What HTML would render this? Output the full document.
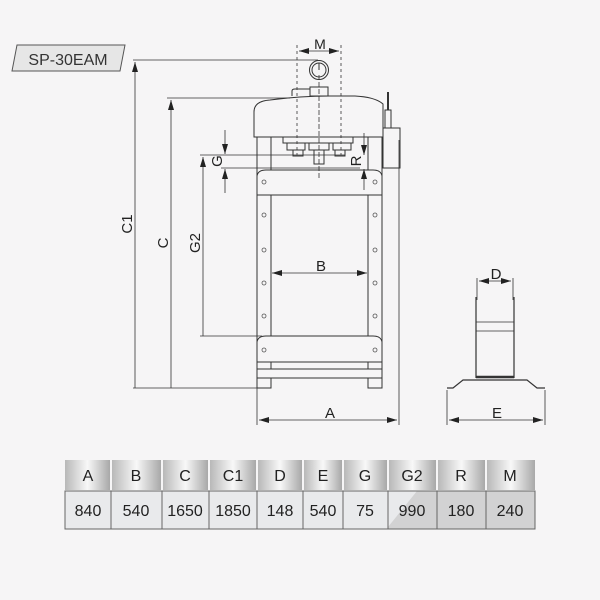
<!DOCTYPE html>
<html><head><meta charset="utf-8"><style>
html,body{margin:0;padding:0;background:#f6f5f6;}
svg{display:block;font-family:"Liberation Sans",sans-serif;}
</style></head><body>
<svg width="600" height="600" viewBox="0 0 600 600" xmlns="http://www.w3.org/2000/svg">
<defs>
<marker id="ar" viewBox="0 0 10 6" refX="10" refY="3" markerWidth="10" markerHeight="6" orient="auto-start-reverse" markerUnits="userSpaceOnUse"><path d="M0,0 L10,3 L0,6 z" fill="#222"/></marker>
<linearGradient id="hd" x1="0" x2="1" y1="0" y2="0">
<stop offset="0" stop-color="#b8b8b8"/><stop offset="0.5" stop-color="#f8f8f8"/><stop offset="1" stop-color="#a8a8a8"/></linearGradient>
</defs>
<rect width="600" height="600" fill="#f6f5f6"/>
<polygon points="17,45 125,45 120,71 12,71" fill="#e6e6e6" stroke="#555" stroke-width="1"/>
<text x="68" y="65" font-size="16" text-anchor="middle" fill="#333">SP-30EAM</text>

<g stroke="#333" stroke-width="0.8" fill="none">
<line x1="133" y1="60" x2="318" y2="60"/>
<line x1="135" y1="62" x2="135" y2="388" marker-start="url(#ar)"/>
<line x1="133" y1="388" x2="262" y2="388"/>
<line x1="167" y1="98" x2="290" y2="98"/>
<line x1="171" y1="100" x2="171" y2="388" marker-start="url(#ar)"/>
<line x1="200" y1="155" x2="345" y2="155"/>
<line x1="203" y1="157" x2="203" y2="336" marker-start="url(#ar)"/>
<line x1="200" y1="336" x2="262" y2="336"/>
<line x1="221" y1="168" x2="360" y2="168"/>
<line x1="225" y1="130" x2="225" y2="154" marker-end="url(#ar)"/>
<line x1="225" y1="193" x2="225" y2="169" marker-end="url(#ar)"/>
<line x1="364" y1="133" x2="364" y2="155" marker-end="url(#ar)"/>
<line x1="364" y1="190" x2="364" y2="169" marker-end="url(#ar)"/>
<line x1="297" y1="45" x2="297" y2="155" stroke-dasharray="3,3"/>
<line x1="341" y1="45" x2="341" y2="155" stroke-dasharray="3,3"/>
<line x1="299" y1="51" x2="339" y2="51" marker-start="url(#ar)" marker-end="url(#ar)"/>
<line x1="319" y1="75" x2="319" y2="180" stroke-dasharray="5,2"/>
<line x1="272" y1="273" x2="367" y2="273" marker-start="url(#ar)" marker-end="url(#ar)"/>
<line x1="257" y1="380" x2="257" y2="425"/>
<line x1="399" y1="140" x2="399" y2="425"/>
<line x1="259" y1="420" x2="397" y2="420" marker-start="url(#ar)" marker-end="url(#ar)"/>
<line x1="447" y1="390" x2="447" y2="425"/>
<line x1="545" y1="390" x2="545" y2="425"/>
<line x1="449" y1="420" x2="543" y2="420" marker-start="url(#ar)" marker-end="url(#ar)"/>
<line x1="477" y1="278" x2="477" y2="300"/>
<line x1="513" y1="278" x2="513" y2="300"/>
<line x1="479" y1="281" x2="511" y2="281" marker-start="url(#ar)" marker-end="url(#ar)"/>
</g>

<g stroke="#333" stroke-width="1" fill="none">
<path d="M254,137 L254,112 Q254,101 270,100 Q300,96 330,96 L355,96 Q375,97 383,104 L383,137 Z"/>
<circle cx="319" cy="70" r="9.5"/><circle cx="319" cy="70" r="7"/>
<line x1="319" y1="70" x2="319" y2="63"/>
<rect x="310" y="87" width="18" height="9"/>
<path d="M292,96 L292,91 Q292,89 295,89 L310,89"/>
<rect x="283" y="137" width="70" height="6"/>
<rect x="287" y="143" width="18" height="7"/><rect x="309" y="143" width="20" height="7"/><rect x="333" y="143" width="18" height="7"/>
<rect x="293" y="150" width="10" height="6"/><rect x="335" y="150" width="10" height="6"/>
<rect x="314" y="150" width="10" height="14"/>
<rect x="383" y="128" width="17" height="40"/>
<rect x="385" y="110" width="6" height="18"/>
<line x1="388" y1="110" x2="388" y2="92" stroke-width="2"/>
<line x1="257" y1="137" x2="257" y2="378"/><line x1="271" y1="137" x2="271" y2="170"/>
<line x1="368" y1="137" x2="368" y2="170"/><line x1="382" y1="137" x2="382" y2="378"/>
<line x1="271" y1="195" x2="271" y2="336"/><line x1="368" y1="195" x2="368" y2="336"/>
<path d="M257,195 L257,176 Q258,170 266,170 L373,170 Q381,170 382,176 L382,195 Z"/>
<path d="M257,362 L257,342 Q258,336 266,336 L373,336 Q381,336 382,342 L382,362 Z"/>
<rect x="257" y="362" width="125" height="7"/>
<line x1="271" y1="362" x2="271" y2="369"/><line x1="368" y1="362" x2="368" y2="369"/>
<rect x="257" y="369" width="125" height="9"/>
<rect x="257" y="378" width="14" height="10"/><rect x="368" y="378" width="14" height="10"/>
</g>
<g fill="none" stroke="#555" stroke-width="0.8">
<circle cx="264" cy="182" r="2"/><circle cx="375" cy="182" r="2"/>
<circle cx="264" cy="215" r="2"/><circle cx="375" cy="215" r="2"/>
<circle cx="264" cy="250" r="2"/><circle cx="375" cy="250" r="2"/>
<circle cx="264" cy="283" r="2"/><circle cx="375" cy="283" r="2"/>
<circle cx="264" cy="316" r="2"/><circle cx="375" cy="316" r="2"/>
<circle cx="264" cy="350" r="2"/><circle cx="375" cy="350" r="2"/>
</g>
<g stroke="#333" stroke-width="1.2" fill="none">
<line x1="476" y1="297" x2="476" y2="378"/><line x1="514" y1="297" x2="514" y2="378"/>
<line x1="476" y1="322" x2="514" y2="322" stroke-width="0.8"/>
<line x1="476" y1="331" x2="514" y2="331" stroke-width="0.8"/>
<line x1="476" y1="377" x2="514" y2="377" stroke-width="2.5"/>
<path d="M447,388 L453,388 L463,380 L527,380 L537,388 L545,388"/>
</g>

<g font-size="15" fill="#222" text-anchor="middle">
<text x="320" y="49" font-size="14">M</text>
<text x="321" y="271">B</text>
<text x="330" y="418">A</text>
<text x="497" y="418">E</text>
<text x="496" y="279">D</text>
<text transform="translate(132,224) rotate(-90)">C1</text>
<text transform="translate(168,243) rotate(-90)">C</text>
<text transform="translate(200,243) rotate(-90)">G2</text>
<text transform="translate(222,161) rotate(-90)">G</text>
<text transform="translate(361,161) rotate(-90)">R</text>
</g>

<g font-size="16" fill="#222" text-anchor="middle">
<rect x="65" y="460" width="45" height="30" fill="url(#hd)"/>
<rect x="112" y="460" width="49" height="30" fill="url(#hd)"/>
<rect x="163" y="460" width="45" height="30" fill="url(#hd)"/>
<rect x="210" y="460" width="46" height="30" fill="url(#hd)"/>
<rect x="258" y="460" width="44" height="30" fill="url(#hd)"/>
<rect x="304" y="460" width="38" height="30" fill="url(#hd)"/>
<rect x="344" y="460" width="43" height="30" fill="url(#hd)"/>
<rect x="389" y="460" width="47" height="30" fill="url(#hd)"/>
<rect x="438" y="460" width="47" height="30" fill="url(#hd)"/>
<rect x="487" y="460" width="48" height="30" fill="url(#hd)"/>
<rect x="65" y="491" width="470" height="38" fill="#e9eaec" stroke="#666" stroke-width="1"/>
<polygon points="417,491 535,491 535,529 388,529 388,527" fill="#d2d2d3"/>
<rect x="65" y="491" width="470" height="38" fill="none" stroke="#666" stroke-width="1"/>
<g stroke="#666" stroke-width="1">
<line x1="111" y1="491" x2="111" y2="529"/><line x1="162" y1="491" x2="162" y2="529"/>
<line x1="209" y1="491" x2="209" y2="529"/><line x1="257" y1="491" x2="257" y2="529"/>
<line x1="303" y1="491" x2="303" y2="529"/><line x1="343" y1="491" x2="343" y2="529"/>
<line x1="388" y1="491" x2="388" y2="529"/><line x1="437" y1="491" x2="437" y2="529"/>
<line x1="486" y1="491" x2="486" y2="529"/>
</g>
<text x="88" y="481">A</text><text x="136" y="481">B</text><text x="185" y="481">C</text><text x="233" y="481">C1</text><text x="280" y="481">D</text><text x="323" y="481">E</text><text x="365" y="481">G</text><text x="412" y="481">G2</text><text x="461" y="481">R</text><text x="510" y="481">M</text>
<text x="88" y="516">840</text><text x="136" y="516">540</text><text x="185" y="516">1650</text><text x="233" y="516">1850</text><text x="280" y="516">148</text><text x="323" y="516">540</text><text x="365" y="516">75</text><text x="412" y="516">990</text><text x="461" y="516">180</text><text x="510" y="516">240</text>
</g>
</svg>
</body></html>
